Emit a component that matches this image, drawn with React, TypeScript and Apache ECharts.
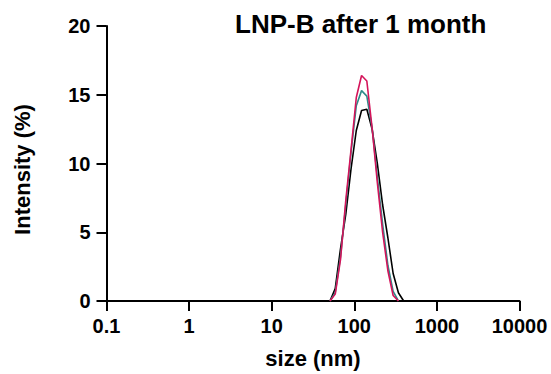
import React, { useEffect, useRef } from "react";
import * as echarts from "echarts";

const sizes = [50.75, 58.77, 68.06, 78.82, 91.28, 105.7, 122.4, 141.8, 164.2, 190.1, 220.2, 255.0, 295.3, 342.0, 396.1];
const blackRun = [0, 0.9, 3.8, 6.3, 9.6, 12.4, 13.85, 13.95, 12.5, 10.0, 7.0, 4.6, 2.0, 0.6, 0];
const tealRun = [0, 0.6, 3.2, 7.0, 10.8, 14.2, 15.3, 14.9, 12.6, 9.0, 5.6, 2.6, 0.7, 0, 0];
const pinkRun = [0, 0.5, 3.0, 7.3, 11.0, 14.8, 16.4, 16.0, 12.6, 8.6, 5.0, 2.2, 0.4, 0, 0];
const yTicks = [0, 5, 10, 15, 20];

function pairs(vals: number[]) {
  const out: [number, number][] = [];
  vals.forEach((v, i) => {
    const prev = i > 0 ? vals[i - 1] : 0;
    const next = i < vals.length - 1 ? vals[i + 1] : 0;
    if (v > 0 || prev > 0 || next > 0) out.push([sizes[i], v]);
  });
  return out;
}

export default function App() {
  const ref = useRef<HTMLDivElement>(null);
  useEffect(() => {
    if (!ref.current) return;
    const chart = echarts.init(ref.current, null, { renderer: "svg" });
    const font = "Liberation Sans, Arial, sans-serif";
    const axisCommon = {
      axisLine: { show: true, lineStyle: { color: "#000", width: 2 } },
      axisTick: { show: true, inside: false, length: 10, lineStyle: { color: "#000", width: 2 } },
      splitLine: { show: false },
      minorTick: { show: false },
    };
    chart.setOption({
      animation: false,
      backgroundColor: "#fff",
      title: {
        text: "LNP-B after 1 month",
        left: 230,
        top: 6,
        textStyle: { fontFamily: font, fontWeight: "bold", fontSize: 26, color: "#000" },
      },
      grid: { left: 106.5, right: 31.5, top: 26, bottom: 70.7, containLabel: false },
      xAxis: {
        type: "log",
        logBase: 10,
        min: 0.1,
        max: 10000,
        name: "size (nm)",
        nameLocation: "middle",
        nameGap: 46,
        nameTextStyle: { fontFamily: font, fontWeight: "bold", fontSize: 22, color: "#000" },
        ...axisCommon,
        axisLabel: {
          margin: 15,
          fontFamily: font,
          fontWeight: "bold",
          fontSize: 20,
          color: "#000",
          formatter: (v: number) => String(Number(v.toPrecision(6))),
        },
      },
      yAxis: {
        type: "value",
        min: yTicks[0],
        max: yTicks[yTicks.length - 1],
        interval: 5,
        name: "Intensity (%)",
        nameLocation: "middle",
        nameGap: 73,
        nameTextStyle: { fontFamily: font, fontWeight: "bold", fontSize: 22, color: "#000", padding: [0, 12, 0, 0] },
        ...axisCommon,
        axisLabel: {
          margin: 16,
          fontFamily: font,
          fontWeight: "bold",
          fontSize: 20,
          color: "#000",
        },
      },
      series: [
        { name: "run 1", type: "line", data: pairs(blackRun), showSymbol: false, symbol: "none", lineStyle: { color: "#000", width: 1.6 }, z: 3 },
        { name: "run 2", type: "line", data: pairs(tealRun), showSymbol: false, symbol: "none", lineStyle: { color: "#2f8a8a", width: 1.6 }, z: 4 },
        { name: "run 3", type: "line", data: pairs(pinkRun), showSymbol: false, symbol: "none", lineStyle: { color: "#d4145a", width: 1.6 }, z: 5 },
      ],
    });
    return () => chart.dispose();
  }, []);
  return <div ref={ref} style={{ position: "fixed", left: 0, top: 0, width: 551, height: 374 }} />;
}
